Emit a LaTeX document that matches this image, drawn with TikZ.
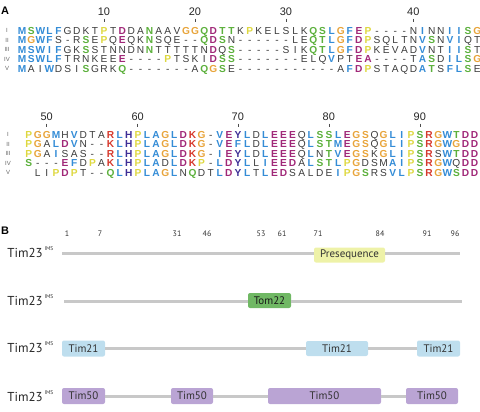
\documentclass[tikz,border=0pt]{standalone}
\usepackage{fontspec}
\setmainfont{Liberation Sans}
\newfontfamily\myriad{PT Sans}
\usepackage{xcolor}
\usetikzlibrary{positioning}
\definecolor{aab}{RGB}{52,140,214}
\definecolor{aag}{RGB}{92,176,60}
\definecolor{aao}{RGB}{232,164,58}
\definecolor{aay}{RGB}{222,216,64}
\definecolor{aam}{RGB}{160,40,120}
\definecolor{aar}{RGB}{214,58,46}
\definecolor{aai}{RGB}{62,46,150}
\definecolor{aak}{RGB}{60,60,60}
\definecolor{barline}{RGB}{200,200,200}
\definecolor{preseq}{RGB}{238,242,168}
\definecolor{tomgreen}{RGB}{112,184,100}
\definecolor{timblue}{RGB}{190,222,238}
\definecolor{timpurple}{RGB}{186,164,212}

% one alignment row: lower case letter = colour switch, '.' = empty column
\newlength\colw
\setlength\colw{9.1bp}
\makeatletter
\def\aln@gray{aak}
\newcommand\aln[1]{\def\aln@col{aak}\aln@#1\@nil}
\def\aln@#1{\ifx\@nil#1\else\aln@do#1\expandafter\aln@\fi}
\def\aln@do#1{\ifnum`#1>96 \def\aln@col{aa#1}\else\makebox[\colw]{\ifx.#1\else\textcolor{\aln@col}{\ifx\aln@col\aln@gray\else\bfseries\fi#1}\fi}\fi}
\makeatother

\begin{document}
\begin{tikzpicture}[x=1bp, y=-1bp,
    seqrow/.style={anchor=west, inner sep=0pt, font=\fontsize{10.2}{12}\selectfont, text height=7bp, text depth=0pt},
    rowlab/.style={inner sep=0pt, font=\fontsize{6}{7}\selectfont, text=black!60},
    poslab/.style={inner sep=0pt, font=\fontsize{11}{12}\selectfont, text=black!85},
    postick/.style={draw=black!70, line width=0.6bp},
    panel/.style={inner sep=0pt, font=\fontsize{11}{12}\selectfont\bfseries},
    protlab/.style={inner sep=0pt, font=\myriad\fontsize{13}{14}\selectfont, text=black!85},
    imslab/.style={inner sep=0pt, font=\myriad\fontsize{5.5}{6}\selectfont, text=black!80},
    reslab/.style={inner sep=0pt, font=\myriad\fontsize{8}{9}\selectfont, text=black!80},
    chain/.style={draw=barline, line width=3bp},
    dombox/.style={rounded corners=2bp, inner sep=0pt, minimum height=15bp, font=\myriad\fontsize{11}{12}\selectfont, text=black!80}]
    \useasboundingbox (0,0) rectangle (480,411);

    % panel A
    \node[panel] (labA) at (5,11) {A};
    \foreach \c/\n in {10/10,20/20,30/30,44/40} {
        \node[poslab] (ta\n) at ({22+(\c-1)*9.1},12) {\n};
        \draw[postick] ([yshift=-2.5bp]ta\n.south) -- ++(0,3.5);
    }
    \foreach \r/\y in {I/30.5,II/40,III/49.5,IV/59,V/68.5}
        \node[rowlab] (la\r) at (7,\y) {\r};
    \node[seqrow] (aI) at (17.45,30.5) {\aln{bMgSbWLFkGDKTyPkTmDkDAgNkAAVoGGgQmDgTTkKyPkKELSLKgQSbLoGbFmEyPk----NbIkNNbIIgSoG}};
    \node[seqrow] (aII) at (17.45,40) {\aln{bMoGbWFkS-RgSkEyPkQmEkQKgNkSQE--gQmDgSkN------LEgQTbLoGbFmDyPkSQLTNbVgSkNbVIkQT}};
    \node[seqrow] (aIII) at (17.45,49.5) {\aln{bMSWIFkGKgSkSTNNDNgNkTTTTTNmDkQgSk-----SIKgQTbLoGbFmDyPkKEVADbVkNTbIIgSkT}};
    \node[seqrow] (aIV) at (17.45,59) {\aln{bMSWLFkTRNKEEmEk----yPkTSKImDgSSk-------ELQbVkPTmEAk----TbAgSkDbILgSoG}};
    \node[seqrow] (aV) at (17.45,68.5) {\aln{bMkAIbWkDSIgSkGRKgQk-------AgQoGgSkE-----------AbFmDyPkSTAQDbAgTkSbFLgSkE}};

    \foreach \c/\n in {3/50,13/60,24/70,34/80,44/90} {
        \node[poslab] (tb\n) at ({28.5+(\c-1)*9.1},117) {\n};
        \draw[postick] ([yshift=-2.5bp]tb\n.south) -- ++(0,3.5);
    }
    \foreach \r/\y in {I/134.5,II/144,III/153.5,IV/163,V/172.5}
        \node[rowlab] (lb\r) at (8,\y) {\r};
    \node[seqrow] (bI) at (23.95,134.5) {\aln{yPoGGbMkHbVkDTArRbLiHyPbLAoGbLmDrKoGk-bVmEiYbLkDbLmEEEkQbLgSSbLmEoGSkQoGbLIyPgSrRoGbWgTmDD}};
    \node[seqrow] (bII) at (23.95,144) {\aln{yPoGkAbLmDbVkN--rKbLiHyPbLAoGbLmDrKoGk-bVmEbFLkDbLmEEEkQbLgSTbMmEoGSkQoGbLIyPgSrRoGbWoGmDD}};
    \node[seqrow] (bIII) at (23.95,153.5) {\aln{yPoGkAbIkSAS--rRbLiHyPbLAoGbLmDrKoGk-bImEiYbLkDbLmEEEkQbLkNgTbVmEoGSkKoGbLIyPgSrRkSbWgTmDD}};
    \node[seqrow] (bIV) at (23.95,163) {\aln{gSk---mEbFkDyPkArKbLiHyPbLAkDbLmDrKyPk-bLmDiYbLkLbImEEDkAbLgSTbLyPoGkDSMbAIyPgSrRoGbWkQmDD}};
    \node[seqrow] (bV) at (23.95,172.5) {\aln{.kLIyPmDyPkT--gQbLiHyPbLAoGbLkNgQkDTbLmDiYbLkTbLmEDkSALDEbIyPoGgSkRSbVLyPgSrRoGbWgSmDD}};

    % panel B
    \node[panel] (labB) at (5,231) {B};
    \foreach \r/\x in {1/67,7/100,31/177,46/207,53/261,61/282,71/318,84/380,91/427,96/455}
        \node[reslab] (res\r) at (\x,234) {\r};

    \node[protlab] (p1) at (25,253) {Tim23};
    \node[imslab, anchor=south west] (i1) at ([xshift=1.5bp,yshift=-3bp]p1.north east) {IMS};
    \coordinate (s1) at (62,253);
    \coordinate (e1) at (460,253);
    \node[dombox, fill=preseq, minimum width=71bp] (pre) at (349.5,255) {Presequence};
    \draw[chain] (s1) -- (s1 -| pre.west);
    \draw[chain] (e1 -| pre.east) -- (e1);

    \node[protlab] (p2) at (25,301) {Tim23};
    \node[imslab, anchor=south west] (i2) at ([xshift=1.5bp,yshift=-3bp]p2.north east) {IMS};
    \coordinate (s2) at (64,301);
    \coordinate (e2) at (462,301);
    \node[dombox, fill=tomgreen, minimum width=43bp, text=black!90] (tom) at (269.5,300.5) {Tom22};
    \draw[chain] (s2) -- (s2 -| tom.west);
    \draw[chain] (e2 -| tom.east) -- (e2);

    \node[protlab] (p3) at (25,348) {Tim23};
    \node[imslab, anchor=south west] (i3) at ([xshift=1.5bp,yshift=-3bp]p3.north east) {IMS};
    \node[dombox, fill=timblue, minimum width=43bp, minimum height=16bp] (t21a) at (83.5,348.5) {Tim21};
    \node[dombox, fill=timblue, minimum width=62bp] (t21b) at (337,348.5) {Tim21};
    \node[dombox, fill=timblue, minimum width=43bp, minimum height=16bp] (t21c) at (438.5,348.5) {Tim21};
    \draw[chain] (t21a) -- (t21b);
    \draw[chain] (t21b) -- (t21c);

    \node[protlab] (p4) at (25,397) {Tim23};
    \node[imslab, anchor=south west] (i4) at ([xshift=1.5bp,yshift=-3bp]p4.north east) {IMS};
    \node[dombox, fill=timpurple, minimum width=43bp, minimum height=16bp] (t50a) at (83.5,396) {Tim50};
    \node[dombox, fill=timpurple, minimum width=42bp, minimum height=16bp] (t50b) at (192,396) {Tim50};
    \node[dombox, fill=timpurple, minimum width=113bp, minimum height=16bp] (t50c) at (324.5,396) {Tim50};
    \node[dombox, fill=timpurple, minimum width=52bp, minimum height=16bp] (t50d) at (432,396) {Tim50};
    \draw[chain] (t50a) -- (t50b);
    \draw[chain] (t50b) -- (t50c);
    \draw[chain] (t50c) -- (t50d);
\end{tikzpicture}
\end{document}
